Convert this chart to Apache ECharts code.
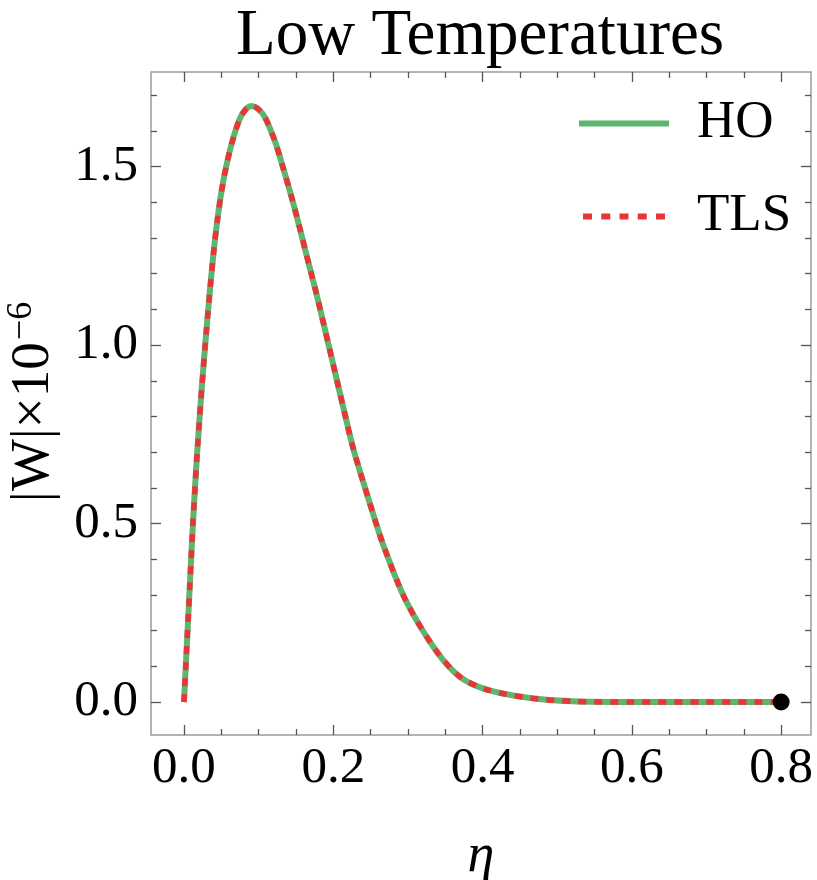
<!DOCTYPE html>
<html>
<head>
<meta charset="UTF-8">
<title>Low Temperatures</title>
<script src="https://cdn.jsdelivr.net/npm/echarts@6/dist/echarts.min.js"></script>
<style>
    html, body { margin: 0; padding: 0; background: #ffffff; }
</style>
</head>
<body>
<div id="chart1" style="width: 817px;height: 880px;"></div>
<script type="text/javascript">
var chart1 = echarts.init(document.getElementById("chart1"));

// values
var etaVals = [0, 0.006, 0.012, 0.018, 0.024, 0.030, 0.0357, 0.0402, 0.0447, 0.0505, 0.057, 0.066,
    0.075, 0.083, 0.0907, 0.099, 0.1085, 0.122, 0.133, 0.1443, 0.1554, 0.1644, 0.1755, 0.183,
    0.194, 0.205, 0.214, 0.227, 0.247, 0.267, 0.297, 0.337, 0.37, 0.407, 0.464, 0.52, 0.6, 0.7, 0.8];
var hoVals = [0, 0.25, 0.5, 0.71, 0.885, 1.04, 1.175, 1.27, 1.35, 1.434, 1.505, 1.58,
    1.635, 1.661, 1.670, 1.662, 1.638, 1.57, 1.495, 1.413, 1.325, 1.25, 1.16, 1.095,
    0.998, 0.9, 0.82, 0.708, 0.570, 0.44, 0.285, 0.146, 0.07, 0.034, 0.011, 0.002, 0, 0, 0];
var tlsVals = [0, 0.25, 0.5, 0.71, 0.885, 1.04, 1.175, 1.27, 1.35, 1.434, 1.505, 1.58,
    1.635, 1.661, 1.670, 1.662, 1.638, 1.57, 1.495, 1.413, 1.325, 1.25, 1.16, 1.095,
    0.998, 0.9, 0.82, 0.708, 0.570, 0.44, 0.285, 0.146, 0.07, 0.034, 0.011, 0.002, 0, 0, 0];
var endPoint = [[0.8, 0]];

// tick labels
var xMajor = [0, 0.2, 0.4, 0.6, 0.8];
var xMinor = [0.05, 0.1, 0.15, 0.25, 0.3, 0.35, 0.45, 0.5, 0.55, 0.65, 0.7, 0.75];
var yMajor = [0, 0.5, 1.0, 1.5];
var yMinor = [0.1, 0.2, 0.3, 0.4, 0.6, 0.7, 0.8, 0.9, 1.1, 1.2, 1.3, 1.4, 1.6, 1.7];

var serif = 'Liberation Serif';
var green = '#5db66f';
var red = '#e93535';
var xMin = -0.0442, xMax = 0.840;
var yMin = -0.0924, yMax = 1.765;

var zip = (xs, ys) => xs.map((x, i) => [x, ys[i]]);

var makeAxis = (kind, pos, ticks, len, labels) => ({
    type: 'value',
    position: pos,
    min: kind === 'x' ? xMin : yMin,
    max: kind === 'x' ? xMax : yMax,
    axisLine: { show: false, onZero: false },
    splitLine: { show: false },
    nameMoveOverlap: false,
    axisTick: {
        show: true,
        inside: true,
        length: len,
        customValues: ticks,
        lineStyle: { color: '#555555', width: 1.3 },
    },
    axisLabel: {
        show: labels,
        customValues: ticks,
        margin: kind === 'x' ? 8 : 13,
        color: '#000000',
        fontFamily: serif,
        fontSize: 51,
        formatter: (v) => v.toFixed(1),
    },
});

var xAxes = [
    makeAxis('x', 'bottom', xMajor, 10, true),
    makeAxis('x', 'bottom', xMinor, 6, false),
    makeAxis('x', 'top', xMajor, 10, false),
    makeAxis('x', 'top', xMinor, 6, false),
];
xAxes[0].name = 'η';
xAxes[0].nameLocation = 'middle';
xAxes[0].nameGap = 95;
xAxes[0].nameTextStyle = { fontFamily: serif, fontStyle: 'italic', fontSize: 54, color: '#000' };

var yAxes = [
    makeAxis('y', 'left', yMajor, 10, true),
    makeAxis('y', 'left', yMinor, 6, false),
    makeAxis('y', 'right', yMajor, 10, false),
    makeAxis('y', 'right', yMinor, 6, false),
];

// legend swatches: solid bar and five short dashes
var dashIcon = 'path://M0,0h9v6h-9z M18.25,0h9v6h-9z M36.5,0h9v6h-9z M54.75,0h9v6h-9z M73,0h9v6h-9z';

var option = {
    backgroundColor: '#ffffff',
    animation: false,
    title: {
        text: 'Low Temperatures',
        left: 236,
        top: 4,
        padding: 0,
        textStyle: { fontFamily: serif, fontSize: 65, fontWeight: 'normal', color: '#000' },
    },
    // rotated y-axis title with a superscript exponent
    graphic: [{
        type: 'text',
        x: 34,
        y: 402,
        rotation: Math.PI / 2,
        style: {
            text: '{a||W|×10}{b|−6}',
            align: 'center',
            verticalAlign: 'middle',
            fill: '#000',
            fontFamily: serif,
            fontSize: 55,
            rich: {
                a: { fontFamily: serif, fontSize: 55, lineHeight: 60, fill: '#000' },
                b: { fontFamily: serif, fontSize: 36, lineHeight: 28, fill: '#000', verticalAlign: 'top', padding: [0, 0, 0, 2] },
            },
        },
    }],
    legend: {
        data: [
            { name: 'HO', icon: 'rect', itemStyle: { color: green } },
            { name: 'TLS', icon: dashIcon, itemStyle: { color: red } },
        ],
        orient: 'vertical',
        left: 579,
        top: 97,
        padding: 0,
        itemWidth: 90,
        itemHeight: 6,
        itemGap: 40,
        textStyle: {
            fontFamily: serif,
            fontSize: 53,
            lineHeight: 53,
            color: '#000',
            padding: [0, 0, 0, 23],
        },
    },
    grid: {
        left: 151,
        top: 72,
        width: 660,
        height: 663,
        outerBoundsMode: 'none',
        containLabel: false,
        show: true,
        borderColor: '#9a9a9a',
        borderWidth: 1.5,
    },
    xAxis: xAxes,
    yAxis: yAxes,
    series: [
        {
            name: 'HO',
            type: 'line',
            symbol: 'none',
            smooth: 0.3,
            lineStyle: { color: green, width: 6 },
            itemStyle: { color: green },
            data: zip(etaVals, hoVals),
            z: 2,
        },
        {
            name: 'TLS',
            type: 'line',
            symbol: 'none',
            smooth: 0.3,
            lineStyle: { color: red, width: 5.5, type: [8, 8] },
            itemStyle: { color: red },
            data: zip(etaVals, tlsVals),
            z: 3,
        },
        {
            type: 'scatter',
            symbol: 'circle',
            symbolSize: 17,
            itemStyle: { color: '#000000', opacity: 1 },
            data: endPoint,
            z: 4,
        },
    ],
};
chart1.setOption(option);
</script>
</body>
</html>
